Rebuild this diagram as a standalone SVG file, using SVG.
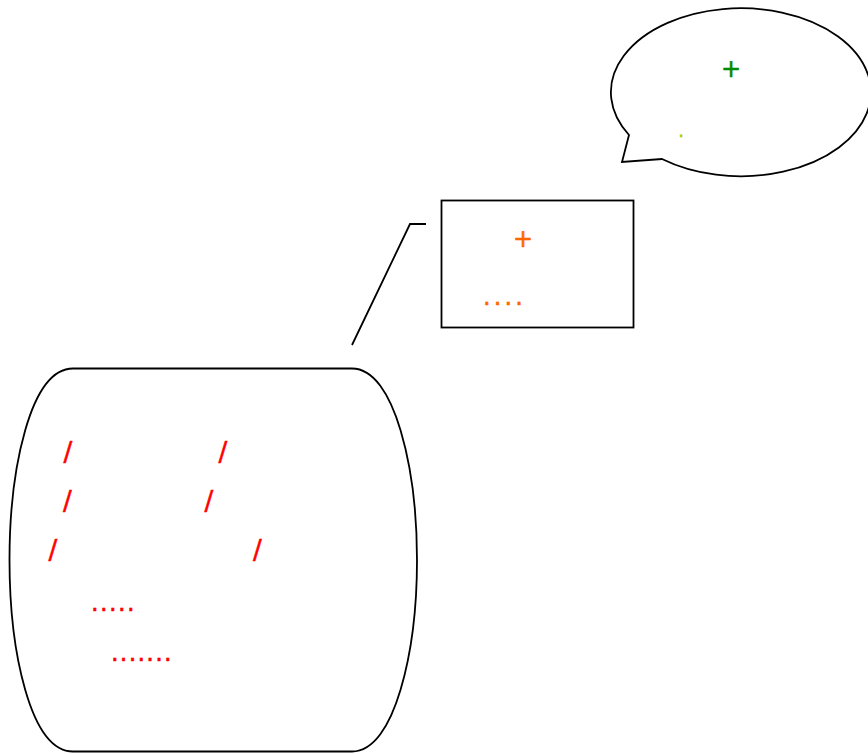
<svg xmlns="http://www.w3.org/2000/svg" width="868" height="754" viewBox="0 0 868 754">
<style>
.shape{fill:#fff;stroke:#000;stroke-width:1.8}
.conn{fill:none;stroke:#000;stroke-width:1.8}
.t{font-family:"DejaVu Sans",sans-serif;font-size:24px;stroke-width:0.5}
.sl{font-family:"DejaVu Sans",sans-serif;font-size:26px;fill:#ff0000;stroke:#ff0000;stroke-width:0.5;text-anchor:middle}
.red{fill:#ff0000;stroke:#ff0000}
.orange{fill:#ff6600;stroke:#ff6600}
.green{fill:#008a00;stroke:#008a00}
.yel{fill:#a8cc00;stroke:#a8cc00}
</style>
<rect width="868" height="754" fill="#fff"/>
<g id="connectors">
<path class="conn" d="M352,345 L410,224 L426,224"/>
</g>
<g id="callout">
<path class="shape" d="M629,135 A130,84 0 1 1 662,159 L622,162 Z"/>
<text class="t green" x="731" y="76.5" text-anchor="middle">+</text>
<text class="yel" x="681" y="137" text-anchor="middle" style="font-family:'DejaVu Sans',sans-serif;font-size:18px;stroke-width:0.4">.</text>
</g>
<g id="box">
<rect class="shape" x="441.5" y="200.5" width="192" height="127"/>
<text class="t orange" x="523" y="246.5" text-anchor="middle">+</text>
<text class="t orange" x="483" y="305" letter-spacing="3.1">....</text>
</g>
<g id="storage">
<path class="shape" d="M73,368.5 H352 C395,368.5 417,470 417,560 C417,650 395,751.5 352,751.5 H73 C30,751.5 9.5,650 9.5,560 C9.5,470 30,368.5 73,368.5 Z"/>
<text class="sl" x="68" y="461">/</text>
<text class="sl" x="223" y="461">/</text>
<text class="sl" x="67.5" y="510">/</text>
<text class="sl" x="209" y="510">/</text>
<text class="sl" x="53" y="559">/</text>
<text class="sl" x="257.5" y="559">/</text>
<text class="t red" x="91" y="611" letter-spacing="1.4">.....</text>
<text class="t red" x="111" y="661" letter-spacing="1.2">.......</text>
</g>
</svg>
